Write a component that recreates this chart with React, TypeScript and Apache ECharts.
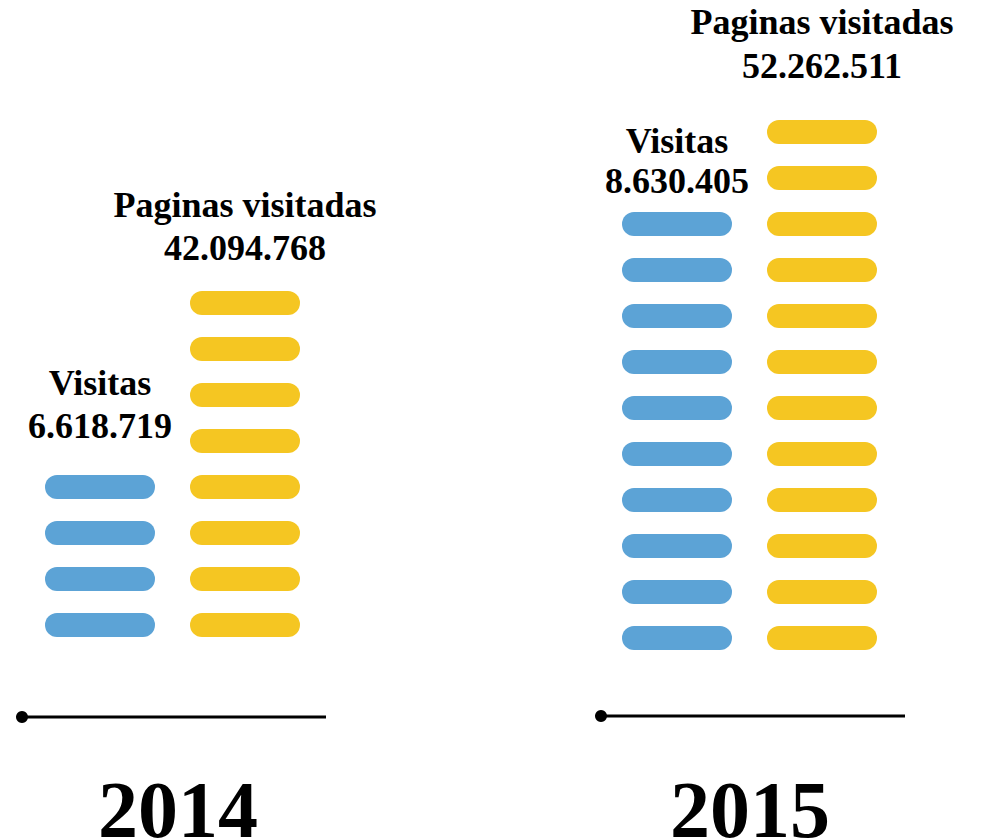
import React, { useEffect, useRef } from "react";
import * as echarts from "echarts";

// ---- Data ----
const years = ["2014", "2015"];
const categories = ["Visitas", "Paginas visitadas"];
const visitasValues = [6618719, 8630405];
const paginasValues = [42094768, 52262511];
// number of pills drawn per bar (as shown in the picture)
const visitasPills = [4, 10];
const paginasPills = [8, 12];

const BLUE = "#5ca3d6";
const YELLOW = "#f5c622";
const FONT = "Liberation Serif";

const fmt = (n: number) => n.toString().replace(/\B(?=(\d{3})+(?!\d))/g, ".");

// layout (pixels)
const grids = [
  { left: 27.5, width: 290, bottom: 192, height: 552 },
  { left: 604.5, width: 290, bottom: 179, height: 552 },
];
const labelDistances = [
  [17, 11],
  [0, 21],
];
const labelLineHeights = [
  [43, 43],
  [40, 44],
];
const lines = [
  { x1: 22, x2: 326, y: 717 },
  { x1: 601, x2: 905, y: 716 },
];
const yearCenters = [178, 750];

const PILL = "path://M12,0H98A12,12,0,0,1,98,24H12A12,12,0,0,1,12,0Z";

export default function App() {
  const ref = useRef<HTMLDivElement>(null);
  useEffect(() => {
    if (!ref.current) return;
    const chart = echarts.init(ref.current, undefined, { renderer: "svg" });

    const series = years.map((_, gi) => ({
      type: "pictorialBar",
      xAxisIndex: gi,
      yAxisIndex: gi,
      symbol: PILL,
      symbolSize: [110, 24],
      symbolRepeat: true,
      symbolMargin: "11!",
      symbolRepeatDirection: "start",
      barCategoryGap: "0%",
      data: [visitasPills[gi], paginasPills[gi]].map((v, ci) => ({
        value: v,
        itemStyle: { color: ci === 0 ? BLUE : YELLOW },
        label: {
          distance: labelDistances[gi][ci],
          lineHeight: labelLineHeights[gi][ci],
        },
      })),
      label: {
        show: true,
        position: "top",
        fontFamily: FONT,
        fontWeight: "bold",
        fontSize: 36,
        color: "#000",
        align: "center",
        formatter: (p: any) => {
          const val = p.dataIndex === 0 ? visitasValues[gi] : paginasValues[gi];
          return categories[p.dataIndex] + "\n" + fmt(val);
        },
      },
      emphasis: { disabled: true },
      silent: true,
    }));

    const graphics: any[] = [];
    lines.forEach((l, i) => {
      graphics.push({
        type: "line",
        shape: { x1: l.x1, y1: l.y, x2: l.x2, y2: l.y },
        style: { stroke: "#000", lineWidth: 3 },
      });
      graphics.push({
        type: "circle",
        shape: { cx: l.x1, cy: l.y, r: 6 },
        style: { fill: "#000" },
      });
      graphics.push({
        type: "text",
        x: yearCenters[i],
        y: 810,
        style: {
          text: years[i],
          fontFamily: FONT,
          fontWeight: "bold",
          fontSize: 80,
          fill: "#000",
          align: "center",
          verticalAlign: "middle",
        },
      });
    });

    chart.setOption({
      animation: false,
      backgroundColor: "#fff",
      grid: grids.map((g) => ({ ...g })),
      xAxis: grids.map((_, i) => ({
        type: "category",
        gridIndex: i,
        data: categories,
        show: false,
      })),
      yAxis: grids.map((_, i) => ({
        type: "value",
        gridIndex: i,
        min: 0,
        max: 12,
        show: false,
      })),
      series,
      graphic: graphics,
    });
    return () => chart.dispose();
  }, []);
  return (
    <div
      ref={ref}
      style={{ position: "fixed", left: 0, top: 0, width: 984, height: 840 }}
    />
  );
}
